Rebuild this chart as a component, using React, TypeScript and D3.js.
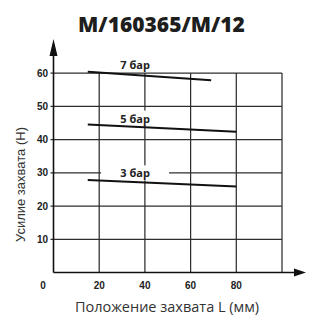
import { line, scaleLinear } from "d3";

const xTicks = [20, 40, 60, 80];
const yTicks = [10, 20, 30, 40, 50, 60];
const gridX = [20, 40, 60, 80, 100];

const curves = [
  { label: "7 бар", labelAt: [35.7, 62.3], box: false, pts: [[15, 60.4], [69, 57.8]] },
  { label: "5 бар", labelAt: [35.7, 46.3], box: true, pts: [[15, 44.5], [80, 42.3]] },
  { label: "3 бар", labelAt: [35.7, 29.8], box: true, pts: [[15, 27.8], [80, 25.9]] },
];

export default function App() {
  const width = 310;
  const height = 320;
  const x = scaleLinear([0, 100], [53.5, 282]);
  const y = scaleLinear([0, 60], [272.5, 73]);
  const path = line<number[]>((d) => x(d[0]), (d) => y(d[1]));
  const font = "'Open Sans', 'DejaVu Sans', sans-serif";

  return (
    <svg
      width={width}
      height={height}
      style={{ position: "absolute", left: 0, top: 0, background: "#fff" }}
      fontFamily={font}
    >
      <text x={161.5} y={32} textAnchor="middle" fontSize={21} fontWeight={800} fill="#1e1e1e">
        M/160365/M/12
      </text>

      {/* grid */}
      <g stroke="#2e2e2e" strokeWidth={1.25} fill="none">
        {gridX.map((v) => (
          <path key={"gx" + v} d={`M${x(v)},${y(60)}V${y(0)}`} />
        ))}
        {yTicks.map((v) => (
          <path key={"gy" + v} d={`M${x(0) - 3},${y(v)}H${x(100)}`} />
        ))}
      </g>

      {/* axes */}
      <path d={`M${x(0)},${y(0)}V50`} stroke="#111" strokeWidth={1.6} fill="none" />
      <path d={`M${x(0) - 4},56 L${x(0)},39 L${x(0) + 4},56 Z`} fill="#111" />
      <path d={`M${x(0)},${y(0)}H298`} stroke="#111" strokeWidth={1.6} fill="none" />
      <path d={`M294,${y(0) - 4} L306,${y(0)} L294,${y(0) + 4} Z`} fill="#111" />

      {/* tick labels */}
      {yTicks.map((v) => (
        <text key={"ty" + v} x={48} y={y(v) + 3.5} textAnchor="end" fontSize={10} fontWeight="bold" fill="#222"
          fontFamily="'Liberation Sans', Arial, sans-serif">
          {v}
        </text>
      ))}
      <text x={43} y={289} textAnchor="middle" fontSize={10} fontWeight="bold" fill="#222"
        fontFamily="'Liberation Sans', Arial, sans-serif">0</text>
      {xTicks.map((v) => (
        <text key={"tx" + v} x={x(v)} y={289} textAnchor="middle" fontSize={10} fontWeight="bold" fill="#222"
          fontFamily="'Liberation Sans', Arial, sans-serif">
          {v}
        </text>
      ))}

      {/* curves */}
      {curves.map((c) => (
        <g key={c.label}>
          {c.box && (
            <rect x={x(c.labelAt[0]) - 34} y={y(c.labelAt[1]) - 8} width={68} height={15} fill="#fff" />
          )}
          <path d={path(c.pts) ?? ""} fill="none" stroke="#111" strokeWidth={2} />
          <text
            x={x(c.labelAt[0])}
            y={y(c.labelAt[1]) + 4}
            textAnchor="middle"
            fontSize={11}
            fontWeight="bold"
            fill="#222"
          >
            {c.label}
          </text>
        </g>
      ))}

      {/* axis titles */}
      <text x={167} y={312} textAnchor="middle" fontSize={14.5} fill="#333">
        Положение захвата L (мм)
      </text>
      <text
        transform={`translate(25,184.5) rotate(-90)`}
        textAnchor="middle"
        fontSize={13}
        fill="#333"
        fontFamily="'Liberation Sans', Arial, sans-serif"
      >
        Усилие захвата (Н)
      </text>
    </svg>
  );
}
